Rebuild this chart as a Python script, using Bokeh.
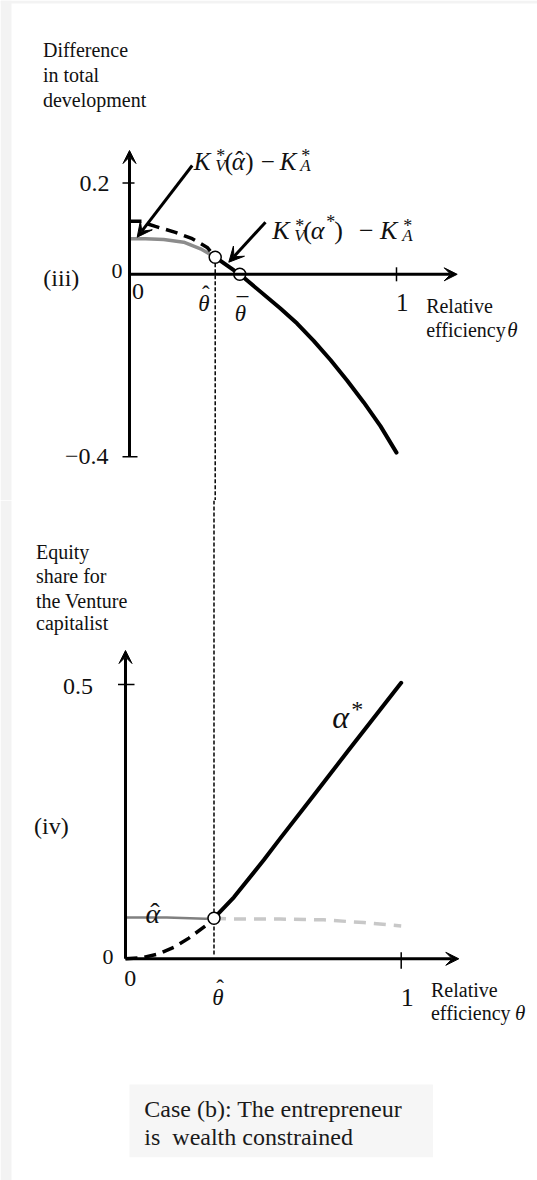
from bokeh.plotting import figure
from bokeh.layouts import column
from bokeh.models import Range1d, Arrow, VeeHead
from bokeh.core.properties import value
from bokeh.embed import file_html
from bokeh.resources import INLINE

# ---------------- data ----------------
theta_hat = 0.321
theta_bar = 0.413

# panel (iii): difference in total development
theta_kvhat_gray = [0.0, 0.06, 0.128, 0.203, 0.266, 0.321]
kvhat_gray = [0.078, 0.078, 0.0765, 0.0705, 0.056, 0.0375]

theta_kvhat_dash = [0.0, 0.047, 0.06, 0.097, 0.172, 0.235, 0.291, 0.321]
kvhat_dash = [0.1166, 0.1166, 0.112, 0.105, 0.092, 0.078, 0.059, 0.0375]

theta_kvstar = [0.321, 0.413, 0.5655, 0.628, 0.690, 0.753, 0.815, 0.8775, 0.940, 1.0]
kvstar = [0.0375, 0.0, -0.075, -0.108, -0.146, -0.188, -0.233, -0.281, -0.333, -0.391]

iii_points_theta = [theta_hat, theta_bar]
iii_points_val = [0.0375, 0.0]

iii_yticks = [0.2, -0.4]
iii_ytick_labels = ["0.2", "\u22120.4"]
iii_xticks = [1.0]

# panel (iv): equity share for the venture capitalist
theta_ahat = [0.0, 0.15, 0.29, 0.321]
ahat = [0.0755, 0.0755, 0.073, 0.074]

theta_ahat_dash = [0.321, 0.375, 0.562, 0.719, 0.864, 1.0]
ahat_dash = [0.074, 0.0725, 0.0725, 0.071, 0.066, 0.060]

theta_astar_dash = [0.0, 0.06, 0.12, 0.18, 0.23, 0.29, 0.321]
astar_dash = [0.0, 0.002, 0.009, 0.022, 0.0377, 0.060, 0.074]

theta_astar = [0.321, 0.393, 0.5015, 0.562, 0.683, 0.804, 0.925, 1.0]
astar = [0.074, 0.112, 0.18, 0.22, 0.298, 0.377, 0.455, 0.503]

iv_point_theta = [theta_hat]
iv_point_val = [0.074]

iv_yticks = [0.5]
iv_ytick_labels = ["0.5"]
iv_xticks = [1.0]

# ---------------- layout constants ----------------
W = 537
H3, H4 = 500, 680
FONT = "Liberation Serif"
INK = "#111111"
PAGE_GRAY = "#f3f3f3"

# panel iii: theta 0 at px 129, 267 px/unit ; value 0 at px 273.8 from top, 456 px/unit
SX3, OX3, SY3, OY3 = 267.0, 129.0, 456.0, 273.8
# panel iv (its own canvas starts 500 px lower)
SX4, OX4, SY4, OY4 = 275.7, 125.0, 548.6, 458.3

x3 = Range1d(-OX3 / SX3, (W - OX3) / SX3)
y3 = Range1d((OY3 - H3) / SY3, OY3 / SY3)
x4 = Range1d(-OX4 / SX4, (W - OX4) / SX4)
y4 = Range1d((OY4 - H4) / SY4, OY4 / SY4)


def make_fig(xr, yr, h):
    p = figure(width=W, height=h, x_range=xr, y_range=yr,
               x_axis_type=None, y_axis_type=None,
               output_backend="svg", toolbar_location=None, min_border=0)
    p.outline_line_color = None
    p.background_fill_color = "white"
    p.border_fill_color = "white"
    return p


def put(p, x, y, s, size, italic=False, align="left", baseline="alphabetic", color=INK):
    p.text(x=[x], y=[y], text=[s], text_font=value(FONT),
           text_font_size=f"{size}px",
           text_font_style="italic" if italic else "normal",
           text_align=align, text_baseline=baseline, text_color=color)


def compose(p, ax, ay, pieces, sx, sy):
    for dx, dy, s, size, it, al in pieces:
        put(p, ax + dx / sx, ay - dy / sy, s, size, italic=it, align=al)


def axis_arrow(p, xs, ys, xe, ye):
    p.add_layout(Arrow(end=VeeHead(size=13, fill_color="black", line_color="black", line_width=1),
                       x_start=xs, y_start=ys, x_end=xe, y_end=ye,
                       line_width=3, line_color="black"))


def page_strip(p, xr, yr, sx, ox, sy, oy, top_px=None):
    p.quad(left=[xr.start], right=[(11 - ox) / sx], top=[yr.end], bottom=[yr.start],
           fill_color=PAGE_GRAY, line_color=None)
    if top_px is not None:
        p.quad(left=[xr.start], right=[xr.end], top=[yr.end], bottom=[(oy - top_px) / sy],
               fill_color=PAGE_GRAY, line_color=None)


# ================= panel (iii) =================
p3 = make_fig(x3, y3, H3)
page_strip(p3, x3, y3, SX3, OX3, SY3, OY3, top_px=3)

# axes
axis_arrow(p3, 0, -0.4, 0, (OY3 - 150) / SY3)
axis_arrow(p3, 0, 0, (456.7 - OX3) / SX3, 0)
for t in iii_yticks:
    p3.segment(x0=[-7 / SX3], y0=[t], x1=[(5 if t > 0 else 8) / SX3], y1=[t],
               line_color="black", line_width=1.5)
for t in iii_xticks:
    p3.segment(x0=[t], y0=[7 / SY3], x1=[t], y1=[-7 / SY3], line_color="black", line_width=1.5)

# theta-hat guide
p3.segment(x0=[theta_hat], y0=[iii_points_val[0]], x1=[theta_hat], y1=[y3.start],
           line_color="black", line_width=1.5, line_dash="4 2")

# curves
p3.line(theta_kvhat_gray, kvhat_gray, line_color="#8c8c8c", line_width=3.5)
p3.line(theta_kvhat_dash, kvhat_dash, line_color="black", line_width=3.5, line_dash="12 7")
p3.line(theta_kvstar, kvstar, line_color="black", line_width=4, line_cap="round", line_join="round")
p3.scatter(iii_points_theta, iii_points_val, size=12, marker="circle",
           fill_color="white", line_color="black", line_width=1.5)

# pointer arrows
p3.add_layout(Arrow(end=VeeHead(size=15, fill_color="black", line_color="black"),
                    x_start=0.2348, y_start=0.2386, x_end=0.0289, y_end=0.0814,
                    line_width=3, line_color="black"))
p3.add_layout(Arrow(end=VeeHead(size=15, fill_color="black", line_color="black"),
                    x_start=0.5094, y_start=0.1143, x_end=0.3719, y_end=0.0265,
                    line_width=3, line_color="black"))

# formula labels (pieces: dx px, dy px (down), text, size, italic, align)
lab1 = [(0, 0, "K", 25, True, "left"), (22.5, -5, "*", 18, False, "left"),
        (21.5, 4.5, "V", 17, True, "left"),
        (31, 0, "(", 25, False, "left"), (38, 0, "\u03b1", 25, True, "left"),
        (45.5, -1, "\u02c6", 25, False, "center"), (51.5, 0, ")", 25, False, "left"),
        (67, 0, "\u2212", 25, False, "left"), (86, 0, "K", 25, True, "left"),
        (107.5, -5, "*", 18, False, "left"), (106.5, 4.5, "A", 17, True, "left")]
compose(p3, (193.3 - OX3) / SX3, (OY3 - 160.7) / SY3, lab1, SX3, SY3)
lab2 = [(0, 0, "K", 26, True, "left"), (23, -5, "*", 18, False, "left"),
        (22, 4.5, "V", 17, True, "left"),
        (31, 0, "(", 26, False, "left"), (38.5, 0, "\u03b1", 26, True, "left"),
        (54, -9, "*", 18, False, "left"), (62, 0, ")", 26, False, "left"),
        (86.7, 0, "\u2212", 26, False, "left"), (107.7, 0, "K", 26, True, "left"),
        (131, -5, "*", 18, False, "left"), (130, 4.5, "A", 17, True, "left")]
compose(p3, (271.7 - OX3) / SX3, (OY3 - 230) / SY3, lab2, SX3, SY3)

for s, v in zip(["Difference", "in total", "development"], [0.4908, 0.436, 0.3833]):
    put(p3, -0.324, v, s, 20, baseline="middle")
put(p3, -0.3228, -0.0081, "(iii)", 24, baseline="middle")
for t, s in zip(iii_yticks, iii_ytick_labels):
    put(p3, ((109 if t > 0 else 108) - OX3) / SX3, t, s, 24, align="right", baseline="middle")
put(p3, (122 - OX3) / SX3, 0.0083, "0", 22, align="right", baseline="middle")
put(p3, 0.0318, -0.0377, "0", 24, align="center", baseline="middle")
# theta-hat and theta-bar under the axis (accent raised above the glyph)
th_x = (203.3 - OX3) / SX3
put(p3, th_x, (OY3 - 303) / SY3, "\u03b8", 23, italic=True, align="center")
put(p3, th_x + 2 / SX3, (OY3 - 294) / SY3, "\u02c6", 23, align="center")
tb_x = (240 - OX3) / SX3
put(p3, tb_x, (OY3 - 313) / SY3, "\u03b8", 23, italic=True, align="center")
put(p3, tb_x + 2 / SX3, (OY3 - 305.5) / SY3, "\u00af", 23, align="center")
put(p3, 1.0213, -0.0612, "1", 25, align="center", baseline="middle")
put(p3, 1.111, -0.0695, "Relative", 20, baseline="middle")
put(p3, 1.111, -0.1232, "efficiency", 20, baseline="middle")
put(p3, 1.111 + 81 / SX3, -0.1232, "\u03b8", 21, italic=True, baseline="middle")

# ================= panel (iv) =================
p4 = make_fig(x4, y4, H4)
page_strip(p4, x4, y4, SX4, OX4, SY4, OY4)

axis_arrow(p4, 0, 0, 0, (OY4 - 150) / SY4)
axis_arrow(p4, 0, 0, (458.3 - OX4) / SX4, 0)
for t in iv_yticks:
    p4.segment(x0=[-7.5 / SX4], y0=[t], x1=[9 / SX4], y1=[t], line_color="black", line_width=1.5)
for t in iv_xticks:
    p4.segment(x0=[t], y0=[6.5 / SY4], x1=[t], y1=[-10 / SY4], line_color="black", line_width=1.5)

p4.segment(x0=[theta_hat], y0=[y4.end], x1=[theta_hat], y1=[3 / SY4],
           line_color="black", line_width=1.5, line_dash="4 2")

# caption box
p4.quad(left=[0.0145], right=[1.115], top=[-0.229], bottom=[-0.3617],
        fill_color="#f6f6f6", line_color=None)
put(p4, 0.0682, -0.273, "Case (b): The entrepreneur", 24, baseline="middle", color="#1a1a1a")
put(p4, 0.0682, -0.324, "is\u00a0 wealth constrained", 24, baseline="middle", color="#1a1a1a")

p4.line(theta_ahat_dash, ahat_dash, line_color="#c8c8c8", line_width=3.5, line_dash="12 8")
p4.line(theta_ahat, ahat, line_color="#808080", line_width=2.5)
p4.line(theta_astar_dash, astar_dash, line_color="black", line_width=3.5, line_dash="12 7")
p4.line(theta_astar, astar, line_color="black", line_width=4, line_cap="round", line_join="round")
p4.scatter(iv_point_theta, iv_point_val, size=12, marker="circle",
           fill_color="white", line_color="black", line_width=1.5)

for s, v in zip(["Equity", "share for", "the Venture", "capitalist"],
                [0.7415, 0.6969, 0.6531, 0.6112]):
    put(p4, -0.3246, v, s, 20, baseline="middle")
put(p4, -0.3315, 0.2412, "(iv)", 24, baseline="middle")
for t, s in zip(iv_yticks, iv_ytick_labels):
    put(p4, (92.5 - OX4) / SX4, t - 0.0036, s, 24, align="right", baseline="middle")
put(p4, (113 - OX4) / SX4, 0.003, "0", 22, align="right", baseline="middle")
put(p4, 0.0174, -0.0359, "0", 24, align="center", baseline="middle")
th4_x = (217.5 - OX4) / SX4
put(p4, th4_x, (OY4 - 496.7) / SY4, "\u03b8", 23, italic=True, align="center")
put(p4, th4_x + 2 / SX4, (OY4 - 487.7) / SY4, "\u02c6", 23, align="center")
put(p4, 1.0218, -0.0705, "1", 26, align="center", baseline="middle")
put(p4, 1.108, -0.056, "Relative", 20, baseline="middle")
put(p4, 1.108, -0.0997, "efficiency", 20, baseline="middle")
put(p4, 1.108 + 84 / SX4, -0.0997, "\u03b8", 21, italic=True, baseline="middle")
# alpha-hat label
ah_x, ah_y = (145 - OX4) / SX4, (OY4 - 413.3) / SY4
put(p4, ah_x, ah_y, "\u03b1", 28, italic=True)
put(p4, ah_x + 9.5 / SX4, ah_y + 1 / SY4, "\u02c6", 28, align="center")
# alpha-star label
as_x, as_y = (331.7 - OX4) / SX4, (OY4 - 216.7) / SY4
put(p4, as_x, as_y, "\u03b1", 32, italic=True)
put(p4, as_x + 19 / SX4, as_y + 8 / SY4, "*", 24)

layout = column(p3, p4, spacing=0)
open("out.html", "w").write(file_html(layout, INLINE))
